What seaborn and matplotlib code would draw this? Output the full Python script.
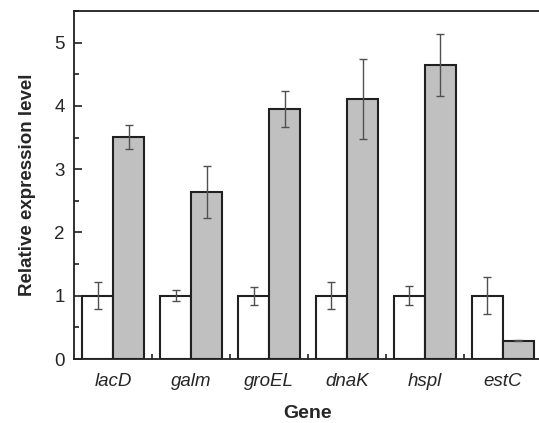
import matplotlib
matplotlib.use("Agg")
import matplotlib.pyplot as plt
import seaborn as sns
import pandas as pd
import numpy as np
from matplotlib.ticker import MultipleLocator, FixedLocator

genes = ["lacD", "galm", "groEL", "dnaK", "hspl", "estC"]
control = [1.0, 1.0, 1.0, 1.0, 1.0, 1.0]
control_err = [0.21, 0.09, 0.14, 0.21, 0.15, 0.29]
treated = [3.51, 2.64, 3.95, 4.11, 4.65, 0.29]
treated_err = [0.19, 0.41, 0.29, 0.63, 0.49, 0.01]
groups = ["Control", "Treated"]

df = pd.DataFrame({
    "Gene": genes * 2,
    "Group": [groups[0]] * len(genes) + [groups[1]] * len(genes),
    "Value": control + treated,
    "Err": control_err + treated_err,
})

sns.set_style("ticks")
plt.rcParams["font.family"] = ["Liberation Sans", "DejaVu Sans"]

fig = plt.figure(figsize=(5.39, 4.23), dpi=100)
ax = fig.add_axes([0.138, 0.1513, 0.867, 0.8227])

sns.barplot(data=df, x="Gene", y="Value", hue="Group", order=genes,
            hue_order=groups, palette=["white", "#c0c0c0"], width=0.8,
            gap=0, edgecolor="#202020", linewidth=1.5, errorbar=None,
            legend=False, ax=ax)

# error bars at bar centers
for container, g in zip(ax.containers, groups):
    sub = df[df["Group"] == g].set_index("Gene").loc[genes]
    xs = [p.get_x() + p.get_width() / 2 for p in container.patches]
    hs = [p.get_height() for p in container.patches]
    ax.errorbar(xs, hs, yerr=sub["Err"].values, fmt="none", ecolor="#505050",
                elinewidth=1.0, capsize=3, capthick=1.0, zorder=5)

ax.set_xlim(-0.5, 5.5)
ax.set_ylim(0, 5.5)
ax.yaxis.set_major_locator(FixedLocator([0, 1, 2, 3, 4, 5]))
ax.yaxis.set_minor_locator(MultipleLocator(0.5))
ax.xaxis.set_minor_locator(FixedLocator([0.5, 1.5, 2.5, 3.5, 4.5]))
ax.tick_params(axis="y", which="major", direction="in", length=6, width=1.2,
               labelsize=13.5, pad=7, color="#202020")
ax.tick_params(axis="y", which="minor", direction="in", length=3.5, width=1.2,
               color="#202020")
ax.tick_params(axis="x", which="major", length=0, labelsize=13.5, pad=10)
ax.tick_params(axis="x", which="minor", direction="in", length=3.5, width=1.2,
               color="#202020")
for lbl in ax.get_xticklabels():
    lbl.set_fontstyle("italic")

for s in ax.spines.values():
    s.set_linewidth(1.3)
    s.set_color("#202020")

ax.set_xlabel("Gene", fontsize=14, fontweight="bold", labelpad=11)
ax.set_ylabel("Relative expression level", fontsize=13.5, fontweight="bold",
              labelpad=13)

fig.savefig("out.png", dpi=100)
